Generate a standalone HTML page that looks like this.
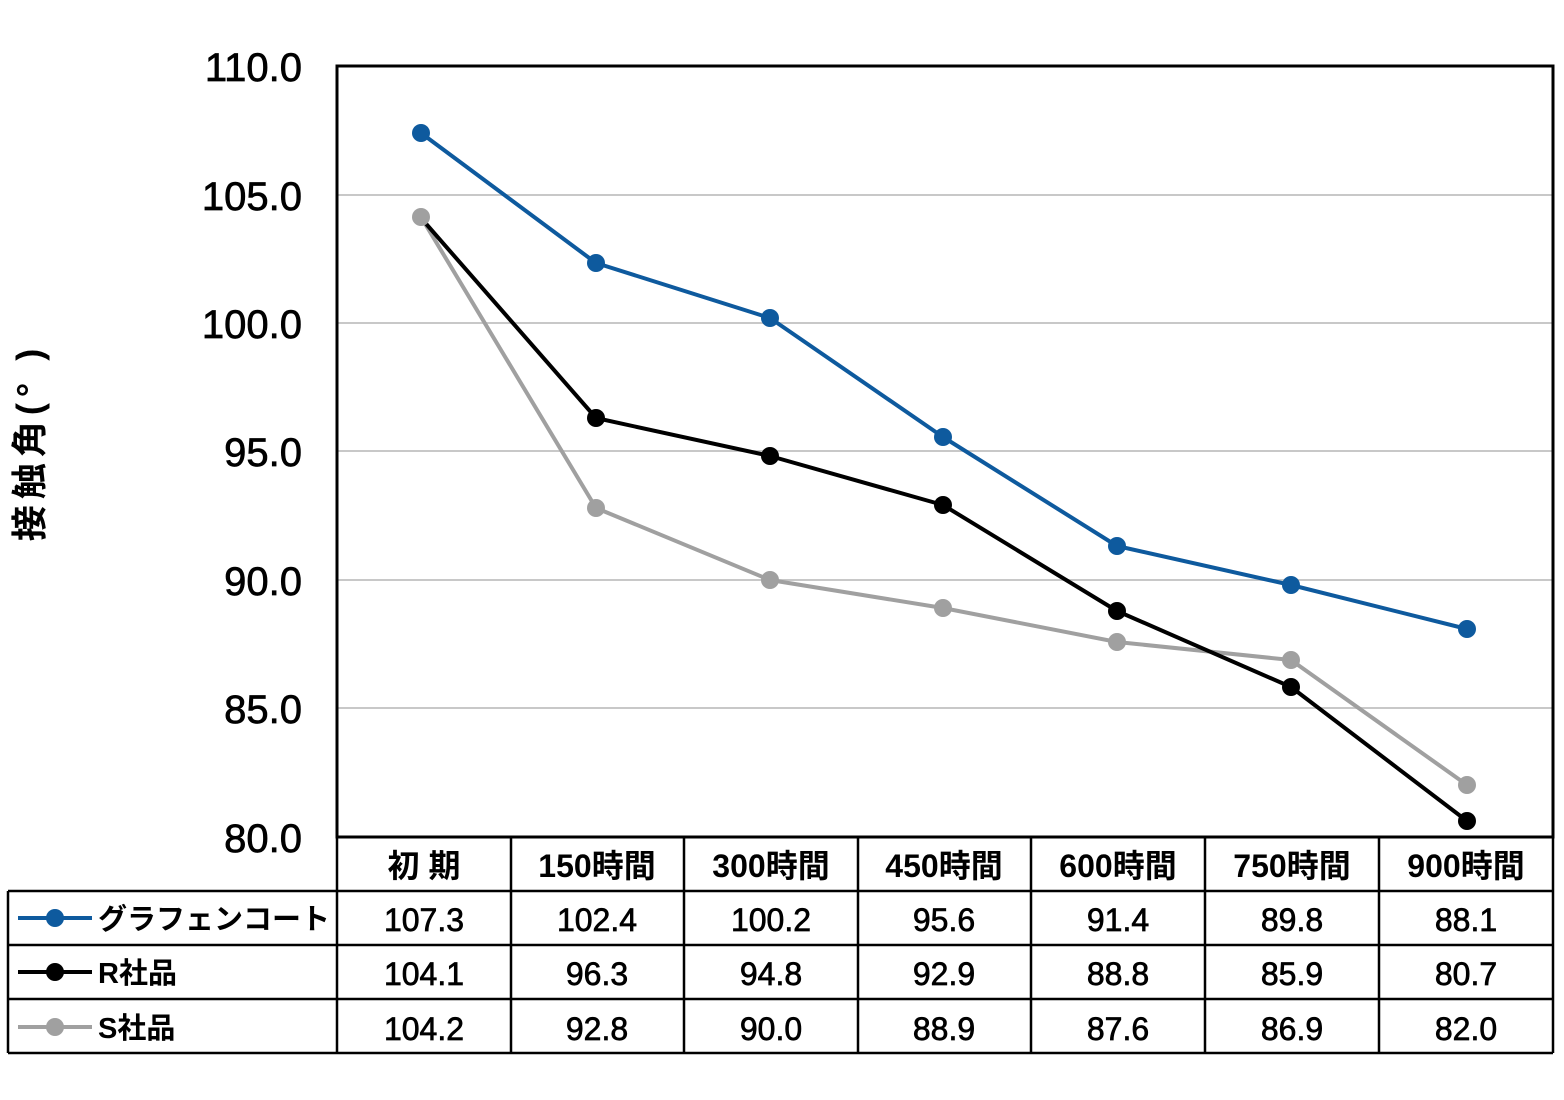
<!DOCTYPE html>
<html><head><meta charset="utf-8"><style>
html,body{margin:0;padding:0;background:#fff;}
svg{display:block;}
text{font-family:"Liberation Sans","Noto Sans CJK JP",sans-serif;fill:#000;}
.m{stroke:#000;stroke-width:0.7px;}
</style></head><body>
<svg width="1564" height="1100" viewBox="0 0 1564 1100" xmlns="http://www.w3.org/2000/svg">
<g stroke="#c8c8c8" stroke-width="2">
<line x1="337" y1="195" x2="1553" y2="195"/>
<line x1="337" y1="323" x2="1553" y2="323"/>
<line x1="337" y1="451" x2="1553" y2="451"/>
<line x1="337" y1="580" x2="1553" y2="580"/>
<line x1="337" y1="708" x2="1553" y2="708"/>
</g>
<rect x="337" y="66" width="1216" height="771" fill="none" stroke="#000" stroke-width="3"/>
<g font-size="40" text-anchor="end" class="m">
<text x="302" y="81">110.0</text>
<text x="302" y="210">105.0</text>
<text x="302" y="338">100.0</text>
<text x="302" y="466">95.0</text>
<text x="302" y="595">90.0</text>
<text x="302" y="723">85.0</text>
<text x="302" y="852">80.0</text>
</g>
<text transform="translate(42,442) rotate(-90)" font-size="36" font-weight="bold" text-anchor="middle" letter-spacing="6">接触角(°  )</text>
<g fill="none" stroke-width="4" stroke-linejoin="round">
<polyline stroke="#a0a0a0" points="421,217 596,508 770,580 943,608 1117,642 1291,660 1467,785"/>
<polyline stroke="#000" points="421,218 596,418 770,456 943,505 1117,611 1291,687 1467,821"/>
<polyline stroke="#0e5a9e" points="421,133 596,263 770,318 943,437 1117,546 1291,585 1467,629"/>
</g>
<g fill="#a0a0a0"><circle cx="421" cy="217" r="9"/><circle cx="596" cy="508" r="9"/><circle cx="770" cy="580" r="9"/><circle cx="943" cy="608" r="9"/><circle cx="1117" cy="642" r="9"/><circle cx="1291" cy="660" r="9"/><circle cx="1467" cy="785" r="9"/></g>
<g fill="#000"><circle cx="596" cy="418" r="9"/><circle cx="770" cy="456" r="9"/><circle cx="943" cy="505" r="9"/><circle cx="1117" cy="611" r="9"/><circle cx="1291" cy="687" r="9"/><circle cx="1467" cy="821" r="9"/></g>
<g fill="#0e5a9e"><circle cx="421" cy="133" r="9"/><circle cx="596" cy="263" r="9"/><circle cx="770" cy="318" r="9"/><circle cx="943" cy="437" r="9"/><circle cx="1117" cy="546" r="9"/><circle cx="1291" cy="585" r="9"/><circle cx="1467" cy="629" r="9"/></g>
<g stroke="#000" stroke-width="2.5" fill="none">
<line x1="337" y1="837" x2="337" y2="1053"/>
<line x1="511" y1="837" x2="511" y2="1053"/>
<line x1="684" y1="837" x2="684" y2="1053"/>
<line x1="858" y1="837" x2="858" y2="1053"/>
<line x1="1031" y1="837" x2="1031" y2="1053"/>
<line x1="1205" y1="837" x2="1205" y2="1053"/>
<line x1="1379" y1="837" x2="1379" y2="1053"/>
<line x1="1553" y1="837" x2="1553" y2="1053"/>
<line x1="8" y1="891" x2="1553" y2="891"/>
<line x1="8" y1="945" x2="1553" y2="945"/>
<line x1="8" y1="999" x2="1553" y2="999"/>
<line x1="8" y1="1053" x2="1553" y2="1053"/>
<line x1="8" y1="891" x2="8" y2="1053"/>
</g>
<g font-size="32" font-weight="bold" text-anchor="middle">
<text x="424" y="877">初 期</text><text x="597" y="877">150時間</text><text x="771" y="877">300時間</text><text x="944" y="877">450時間</text><text x="1118" y="877">600時間</text><text x="1292" y="877">750時間</text><text x="1466" y="877">900時間</text>
</g>
<g font-size="32" text-anchor="middle" class="m">
<text x="424" y="931">107.3</text><text x="597" y="931">102.4</text><text x="771" y="931">100.2</text><text x="944" y="931">95.6</text><text x="1118" y="931">91.4</text><text x="1292" y="931">89.8</text><text x="1466" y="931">88.1</text>
<text x="424" y="985">104.1</text><text x="597" y="985">96.3</text><text x="771" y="985">94.8</text><text x="944" y="985">92.9</text><text x="1118" y="985">88.8</text><text x="1292" y="985">85.9</text><text x="1466" y="985">80.7</text>
<text x="424" y="1040">104.2</text><text x="597" y="1040">92.8</text><text x="771" y="1040">90.0</text><text x="944" y="1040">88.9</text><text x="1118" y="1040">87.6</text><text x="1292" y="1040">86.9</text><text x="1466" y="1040">82.0</text>
</g>
<line x1="18" y1="918" x2="92" y2="918" stroke="#0e5a9e" stroke-width="4"/><circle cx="55" cy="918" r="9" fill="#0e5a9e"/>
<line x1="18" y1="972" x2="92" y2="972" stroke="#000" stroke-width="4"/><circle cx="55" cy="972" r="9" fill="#000"/>
<line x1="18" y1="1027" x2="92" y2="1027" stroke="#a0a0a0" stroke-width="4"/><circle cx="55" cy="1027" r="9" fill="#a0a0a0"/>
<g font-size="29" font-weight="bold">
<text x="98" y="929">グラフェンコート</text>
<text x="98" y="983">R社品</text>
<text x="98" y="1038">S社品</text>
</g>
</svg>
</body></html>
